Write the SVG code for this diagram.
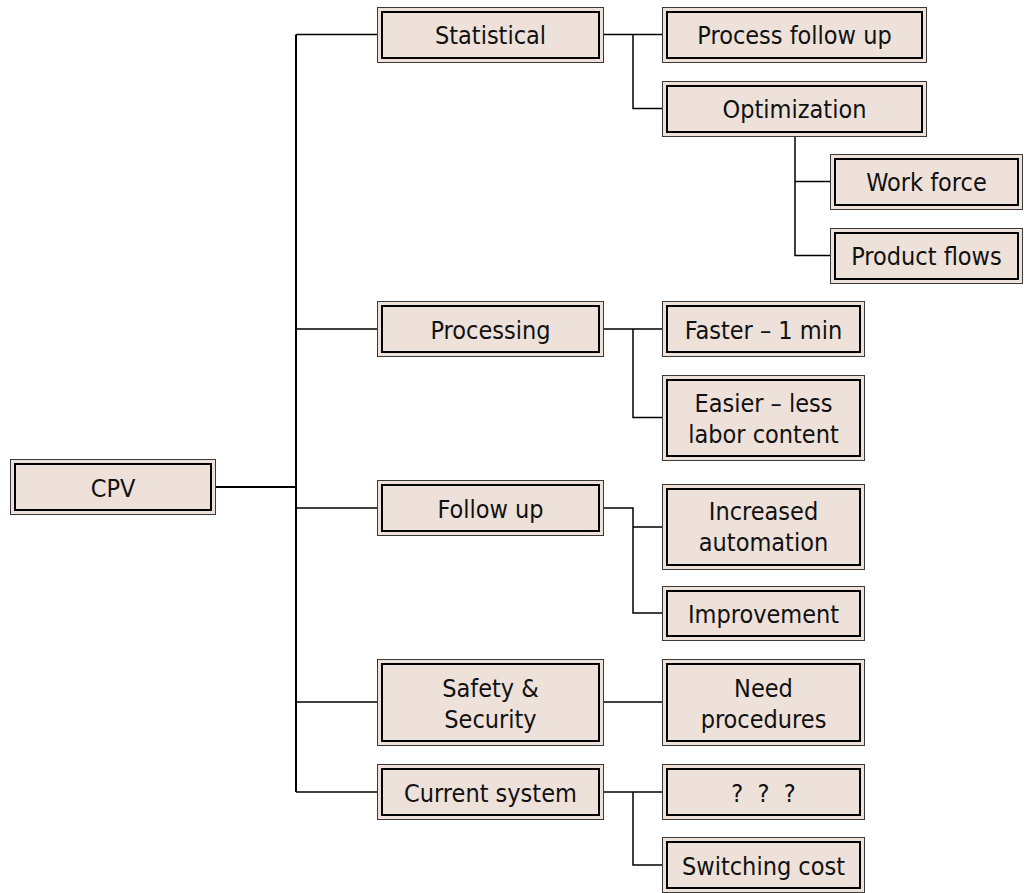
<svg xmlns="http://www.w3.org/2000/svg" width="1024" height="893" viewBox="0 0 1024 893">
  <style>
    .outer { fill: #EEE1D9; stroke: #3a3a3a; stroke-width: 1; }
    .inner { fill: #EEE1D9; stroke: #000; stroke-width: 2; }
    .lbl { font-family: "DejaVu Sans Condensed", "DejaVu Sans", sans-serif; font-stretch: condensed; font-size: 25px; fill: #111; text-anchor: middle; }
    .wire { fill: none; stroke: #000; stroke-width: 1.5; }
    .trunk { fill: none; stroke: #000; stroke-width: 2; }
  </style>
  <rect width="1024" height="893" fill="#fff"/>

  <!-- connectors -->
  <g id="connectors">
    <path class="trunk" d="M215 487 H296"/>
    <path class="trunk" d="M296 34.5 V792"/>
    <path class="wire" d="M296 34.5 H377 M296 329 H377 M296 508 H377 M296 702 H377 M296 792 H377"/>
    <!-- Statistical -->
    <path class="wire" d="M603 34.5 H662 M633 34.5 V108.5 H662"/>
    <!-- Optimization -->
    <path class="wire" d="M795 136 V255.5 H830 M795 181.5 H830"/>
    <!-- Processing -->
    <path class="wire" d="M603 329 H662 M633 329 V417.5 H662"/>
    <!-- Follow up -->
    <path class="wire" d="M603 508 H633 V613 H662 M633 527 H662"/>
    <!-- Safety & Security -->
    <path class="wire" d="M603 702 H662"/>
    <!-- Current system -->
    <path class="wire" d="M603 792 H662 M633 792 V865 H662"/>
  </g>

  <g id="cpv">
    <rect class="outer" x="10.5" y="459.5" width="205" height="55"/>
    <rect class="inner" x="15" y="464" width="196" height="46"/>
    <text class="lbl" x="113" y="496.5">CPV</text>
  </g>

  <g id="statistical">
    <rect class="outer" x="377.5" y="7.5" width="226" height="55"/>
    <rect class="inner" x="382" y="12" width="217" height="46"/>
    <text class="lbl" x="490.5" y="44">Statistical</text>
  </g>
  <g id="processing">
    <rect class="outer" x="377.5" y="301.5" width="226" height="55"/>
    <rect class="inner" x="382" y="306" width="217" height="46"/>
    <text class="lbl" x="490.5" y="338.5">Processing</text>
  </g>
  <g id="follow-up">
    <rect class="outer" x="377.5" y="480.5" width="226" height="55"/>
    <rect class="inner" x="382" y="485" width="217" height="46"/>
    <text class="lbl" x="490.5" y="517.5">Follow up</text>
  </g>
  <g id="safety-security">
    <rect class="outer" x="377.5" y="659.5" width="226" height="86"/>
    <rect class="inner" x="382" y="664" width="217" height="77"/>
    <text class="lbl" x="490.5" y="696.5">Safety &amp;</text>
    <text class="lbl" x="490.5" y="727.5">Security</text>
  </g>
  <g id="current-system">
    <rect class="outer" x="377.5" y="764.5" width="226" height="55"/>
    <rect class="inner" x="382" y="769" width="217" height="46"/>
    <text class="lbl" x="490.5" y="801.5">Current system</text>
  </g>

  <g id="process-follow-up">
    <rect class="outer" x="662.5" y="7.5" width="264" height="55"/>
    <rect class="inner" x="667" y="12" width="255" height="46"/>
    <text class="lbl" x="794.5" y="44">Process follow up</text>
  </g>
  <g id="optimization">
    <rect class="outer" x="662.5" y="81.5" width="264" height="55"/>
    <rect class="inner" x="667" y="86" width="255" height="46"/>
    <text class="lbl" x="794.5" y="118">Optimization</text>
  </g>
  <g id="work-force">
    <rect class="outer" x="830.5" y="154.5" width="192" height="55"/>
    <rect class="inner" x="835" y="159" width="183" height="46"/>
    <text class="lbl" x="926.5" y="191">Work force</text>
  </g>
  <g id="product-flows">
    <rect class="outer" x="830.5" y="228.5" width="192" height="55"/>
    <rect class="inner" x="835" y="233" width="183" height="46"/>
    <text class="lbl" x="926.5" y="265">Product flows</text>
  </g>
  <g id="faster">
    <rect class="outer" x="662.5" y="301.5" width="202" height="55"/>
    <rect class="inner" x="667" y="306" width="193" height="46"/>
    <text class="lbl" x="763.5" y="338.5">Faster – 1 min</text>
  </g>
  <g id="easier">
    <rect class="outer" x="662.5" y="375.5" width="202" height="85"/>
    <rect class="inner" x="667" y="380" width="193" height="76"/>
    <text class="lbl" x="763.5" y="412">Easier – less</text>
    <text class="lbl" x="763.5" y="443">labor content</text>
  </g>
  <g id="increased-automation">
    <rect class="outer" x="662.5" y="484.5" width="202" height="85"/>
    <rect class="inner" x="667" y="489" width="193" height="76"/>
    <text class="lbl" x="763.5" y="520">Increased</text>
    <text class="lbl" x="763.5" y="551">automation</text>
  </g>
  <g id="improvement">
    <rect class="outer" x="662.5" y="586.5" width="202" height="54"/>
    <rect class="inner" x="667" y="591" width="193" height="45"/>
    <text class="lbl" x="763.5" y="622.5">Improvement</text>
  </g>
  <g id="need-procedures">
    <rect class="outer" x="662.5" y="659.5" width="202" height="86"/>
    <rect class="inner" x="667" y="664" width="193" height="77"/>
    <text class="lbl" x="763.5" y="696.5">Need</text>
    <text class="lbl" x="763.5" y="727.5">procedures</text>
  </g>
  <g id="unknown">
    <rect class="outer" x="662.5" y="764.5" width="202" height="55"/>
    <rect class="inner" x="667" y="769" width="193" height="46"/>
    <text class="lbl" x="763.5" y="801.5" xml:space="preserve">?  ?  ?</text>
  </g>
  <g id="switching-cost">
    <rect class="outer" x="662.5" y="837.5" width="202" height="55"/>
    <rect class="inner" x="667" y="842" width="193" height="46"/>
    <text class="lbl" x="763.5" y="874.5">Switching cost</text>
  </g>
</svg>
